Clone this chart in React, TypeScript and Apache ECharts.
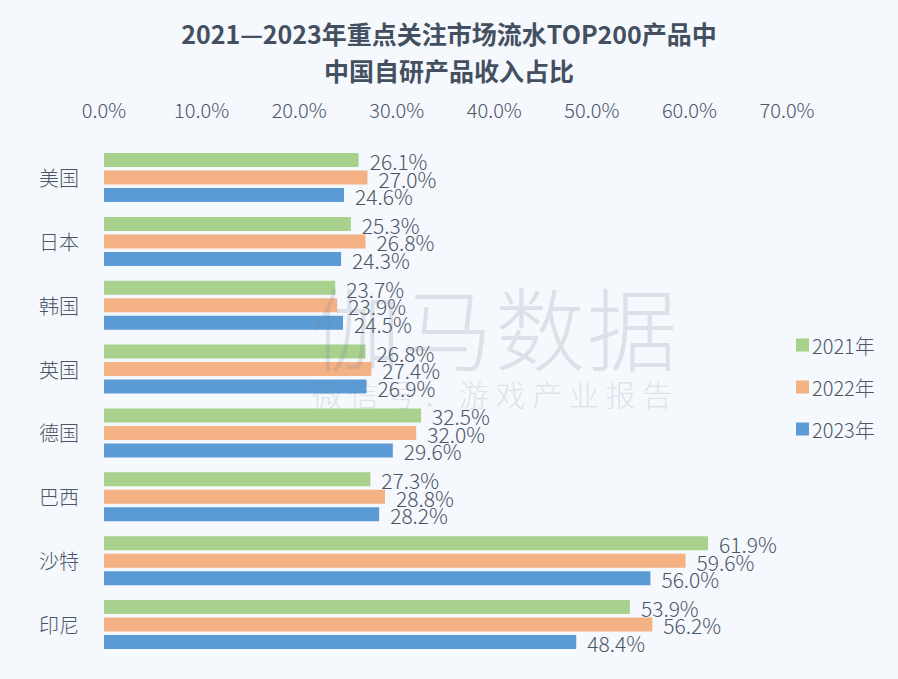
import React, { useEffect, useRef } from "react";
import * as echarts from "echarts";

const categories = ["美国", "日本", "韩国", "英国", "德国", "巴西", "沙特", "印尼"];
const seriesNames = ["2021年", "2022年", "2023年"];
const values2021 = [26.1, 25.3, 23.7, 26.8, 32.5, 27.3, 61.9, 53.9];
const values2022 = [27.0, 26.8, 23.9, 27.4, 32.0, 28.8, 59.6, 56.2];
const values2023 = [24.6, 24.3, 24.5, 26.9, 29.6, 28.2, 56.0, 48.4];
const colors = ["#a9d18e", "#f4b183", "#5b9bd5"];
const titleText = "2021—2023年重点关注市场流水TOP200产品中\n中国自研产品收入占比";
const watermarkMain = "伽马数据";
const watermarkSub = "微信号：游戏产业报告";

const FONT = '"Noto Sans CJK SC", "Noto Sans", sans-serif';
const TEXT = "#4b5565";

export default function App() {
  const ref = useRef<HTMLDivElement>(null);
  useEffect(() => {
    if (!ref.current) return;
    const chart = echarts.init(ref.current, undefined, { renderer: "svg" });
    const allValues = [values2021, values2022, values2023];
    const wmMain = watermarkMain.split("").map((ch, i) => ({
      type: "text",
      left: 311 + i * 92,
      top: 280,
      silent: true,
      z: 100,
      style: { text: ch, fontSize: 90, fontFamily: FONT, fontWeight: 300, fill: "rgba(120,130,150,0.2)" },
    }));
    const wmSub = watermarkSub.split("").map((ch, i) => ({
      type: "text",
      left: 312 + i * 36.7,
      top: 378,
      silent: true,
      z: 100,
      style: { text: ch, fontSize: 30, fontFamily: FONT, fontWeight: 300, fill: "rgba(120,130,150,0.2)" },
    }));
    chart.setOption({
      animation: false,
      backgroundColor: "#f5f8fd",
      textStyle: { fontFamily: FONT },
      title: {
        text: titleText,
        left: "center",
        top: 9,
        textStyle: {
          fontSize: 25,
          fontWeight: "bold",
          color: "#44505f",
          lineHeight: 37,
          fontFamily: FONT,
        },
      },
      legend: {
        orient: "vertical",
        left: 791,
        top: 330,
        itemWidth: 13,
        itemHeight: 13,
        itemGap: 22,
        icon: "rect",
        textStyle: { fontSize: 20, color: TEXT, fontFamily: FONT, fontWeight: 300, padding: [0, 0, 0, -2] },
        data: seriesNames,
      },
      grid: { left: 104, right: 111, top: 145.6, bottom: 22.6, containLabel: false },
      xAxis: {
        type: "value",
        position: "top",
        min: 0,
        max: 70,
        interval: 10,
        axisLine: { show: false },
        axisTick: { show: false },
        splitLine: { show: false },
        axisLabel: {
          margin: 26,
          fontSize: 20,
          color: TEXT,
          fontFamily: FONT,
          fontWeight: 300,
          formatter: (v: number) => v.toFixed(1) + "%",
        },
      },
      yAxis: {
        type: "category",
        inverse: true,
        data: categories,
        axisLine: { show: false },
        axisTick: { show: false },
        axisLabel: { margin: 25, fontSize: 20, color: TEXT, fontFamily: FONT, fontWeight: 300 },
      },
      series: seriesNames.map((name, i) => ({
        name,
        type: "bar",
        data: allValues[i],
        barWidth: 14,
        barGap: "25%",
        itemStyle: { color: colors[i] },
        label: {
          show: true,
          position: "right",
          distance: 11,
          offset: [0, 1],
          fontSize: 21,
          color: TEXT,
          fontFamily: FONT,
          fontWeight: 300,
          formatter: (p: any) => Number(p.value).toFixed(1) + "%",
        },
      })),
      graphic: [...wmMain, ...wmSub],
    });
    return () => chart.dispose();
  }, []);
  return (
    <div
      ref={ref}
      style={{ position: "absolute", left: 0, top: 0, width: 898, height: 679 }}
    />
  );
}
